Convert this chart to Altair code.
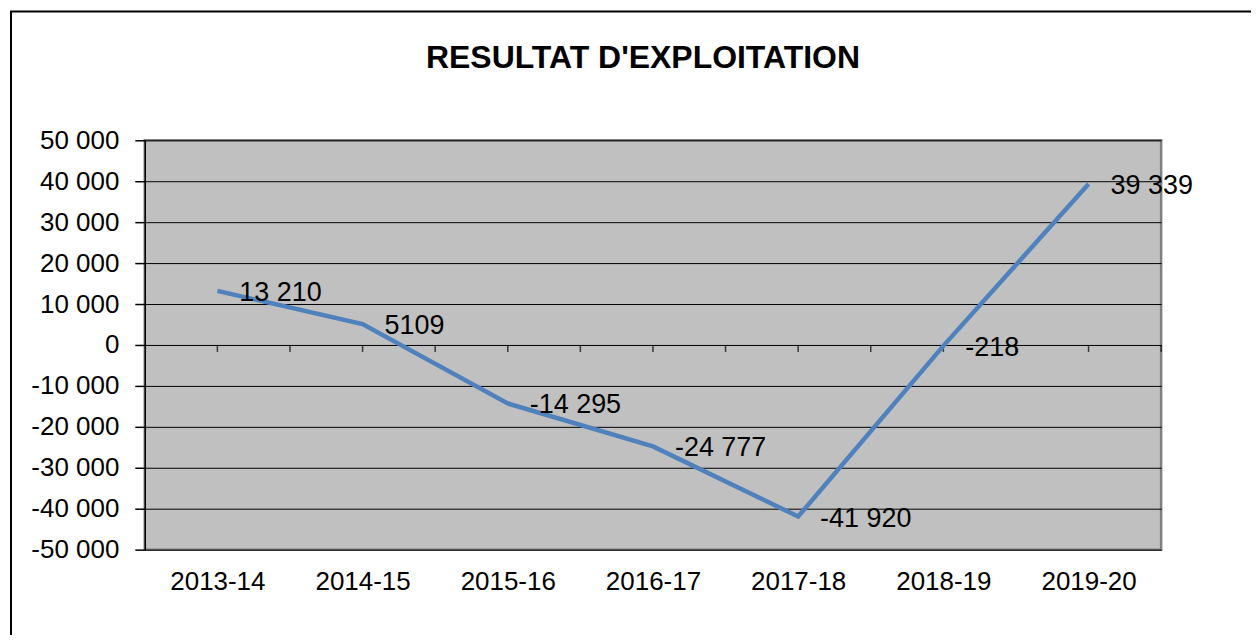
import altair as alt
import pandas as pd

categories = ["2013-14", "2014-15", "2015-16", "2016-17", "2017-18", "2018-19", "2019-20"]
values = [13210, 5109, -14295, -24777, -41920, -218, 39339]
labels = ["13 210", "5109", "-14 295", "-24 777", "-41 920", "-218", "39 339"]
y_ticks = [-50000, -40000, -30000, -20000, -10000, 0, 10000, 20000, 30000, 40000, 50000]
title_text = "RESULTAT D'EXPLOITATION"

FONT = "Liberation Sans"

df = pd.DataFrame({"idx": list(range(len(categories))), "cat": categories,
                   "val": values, "lab": labels})
# small ticks on the zero line: at every category and between categories
tick_df = pd.DataFrame({"pos": [k / 2 for k in range(0, 2 * len(categories))], "zero": 0})

cat_js = "[" + ",".join("'%s'" % c for c in categories) + "]"

x_scale = alt.Scale(domain=[-0.5, len(categories) - 0.5], nice=False, zero=False)
y_scale = alt.Scale(domain=[-50000, 50000], nice=False)

x_enc = alt.X("idx:Q", scale=x_scale, axis=alt.Axis(
    values=list(range(len(categories))), labelExpr=cat_js + "[datum.value]",
    grid=False, ticks=False, domain=False, labelFontSize=26, labelFont=FONT,
    labelColor="black", labelPadding=19, labelBaseline="top", title=None))
y_enc = alt.Y("val:Q", scale=y_scale, axis=alt.Axis(
    values=y_ticks,
    labelExpr="(datum.value < 0 ? '-' : '') + replace(format(abs(datum.value), ','), ',', ' ')",
    grid=True, gridColor="black", gridWidth=1, gridOpacity=1,
    domain=True, domainColor="black", domainWidth=1.5,
    ticks=True, tickColor="black", tickSize=10, tickWidth=1.5,
    labelFontSize=26, labelFont=FONT, labelColor="black", labelPadding=16, title=None))

line = alt.Chart(df).mark_line(color="#4F81BD", strokeWidth=4.5).encode(x=x_enc, y=y_enc)

text = alt.Chart(df).mark_text(align="left", baseline="middle", dx=22, dy=2,
                               fontSize=27, font=FONT, color="black").encode(
    x="idx:Q", y="val:Q", text="lab:N")

zero_ticks = alt.Chart(tick_df).mark_tick(orient="vertical", size=7, yOffset=3.5,
                                          thickness=1.5, color="black").encode(
    x=alt.X("pos:Q", scale=x_scale), y=alt.Y("zero:Q", scale=y_scale))

frame = alt.Chart(alt.Data(values=[{}])).mark_rect(
    fill=None, stroke="black", strokeWidth=2).encode(
    x=alt.value(-134), x2=alt.value(1300), y=alt.value(-129), y2=alt.value(700))

title = alt.Chart(alt.Data(values=[{"t": title_text}])).mark_text(
    align="center", baseline="alphabetic", fontSize=32, font=FONT, fontWeight="bold",
    color="black").encode(x=alt.value(499), y=alt.value(-72), text="t:N")

chart = alt.layer(zero_ticks, line, text, frame, title).properties(
    width=1018, height=410,
    autosize=alt.AutoSizeParams(type="none"),
    padding={"left": 137, "top": 132, "right": 90, "bottom": 85},
).configure(background="white"
).configure_view(fill="#C0C0C0", stroke="#808080", strokeWidth=2.5)

chart.save("out.html", embed_options={"renderer": "svg", "actions": False})
